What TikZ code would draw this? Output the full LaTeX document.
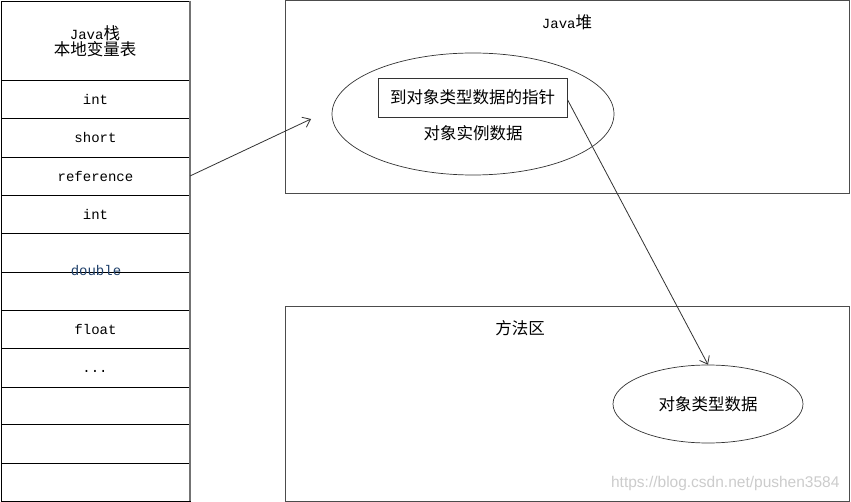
\documentclass[tikz,border=0pt]{standalone}
\usepackage{fontspec}
\setmonofont{Liberation Mono}
\newfontfamily\cjk{Noto Sans CJK SC}
\newfontfamily\wmfont{Liberation Sans}
\usetikzlibrary{arrows.meta,shapes.geometric}
\definecolor{dbl}{rgb}{0.12,0.25,0.42}
\begin{document}
\begin{tikzpicture}[x=1pt,y=-1pt,
  rowbox/.style={draw=black, line width=0.9pt, minimum width=189pt, anchor=north west, inner sep=0pt, outer sep=0pt},
  areabox/.style={draw=black!70, line width=1pt, anchor=north west, inner sep=0pt, outer sep=0pt},
  lat/.style={font=\fontsize{14}{16}\selectfont\ttfamily},
  zh/.style={font=\fontsize{16.5}{18}\selectfont\cjk},
  ell/.style={ellipse, draw=black!80, line width=0.7pt, inner sep=0pt},
  arr/.style={draw=black!80, line width=0.8pt, -{Straight Barb[length=7pt,width=11pt]}}
]
\useasboundingbox (0,0) rectangle (851,502);
\fill[white] (0,0) rectangle (851,502);

% Java stack
\node[rowbox, minimum height=79pt] (hdr) at (1,1) {};
\node[zh, align=center] (hdrtxt) at (95,41) {{\fontsize{14}{15}\selectfont\ttfamily Java}栈\\[-2pt]本地变量表};
\foreach \t/\b [count=\i] in {80/118,118/157,157/195,195/233,233/272,272/310,310/348,348/387,387/424,424/463,463/501}
  \node[rowbox, minimum height={\b-\t}] (r\i) at (1,\t) {};
\draw[black!55, line width=1.6pt] (hdr.north east) -- (r11.south east);

\node[lat] (l1) at (r1) {int};
\node[lat] (l2) at (r2) {short};
\node[lat] (l3) at (r3) {reference};
\node[lat] (l4) at (r4) {int};
\node[lat, text=dbl] (l5) at (96,271) {double};
\node[lat] (l7) at (r7) {float};
\node[lat] (l8) at (95,371) {...};

% Java heap
\node[areabox, minimum width=564pt, minimum height=193pt] (heap) at (285,1) {};
\node[zh] (heaptxt) at (567,22) {{\fontsize{14}{15}\selectfont\ttfamily Java}堆};
\node[ell, minimum width=282pt, minimum height=122pt] (inst) at (473,114) {};
\node[draw=black!80, line width=0.8pt, fill=white, minimum width=189pt, minimum height=39pt, inner sep=0pt, zh] (ptr) at (472.5,97.5) {到对象类型数据的指针};
\node[zh] (insttxt) at (473,133) {对象实例数据};

% Method area
\node[areabox, minimum width=564pt, minimum height=194pt] (meth) at (285,307) {};
\node[zh] (methtxt) at (520,328) {方法区};
\node[ell, zh, minimum width=190pt, minimum height=78pt] (typ) at (708,404) {对象类型数据};

\node[font=\fontsize{15.5}{17}\selectfont\wmfont, text=black!20, anchor=east] (wm) at (843,483) {https://blog.csdn.net/pushen3584};

% connectors
\coordinate (a1) at (311,119);
\draw[arr] (r3.east) -- (a1);
\draw[arr] ([yshift=-2pt]ptr.east) -- (typ.north);
\end{tikzpicture}
\end{document}
